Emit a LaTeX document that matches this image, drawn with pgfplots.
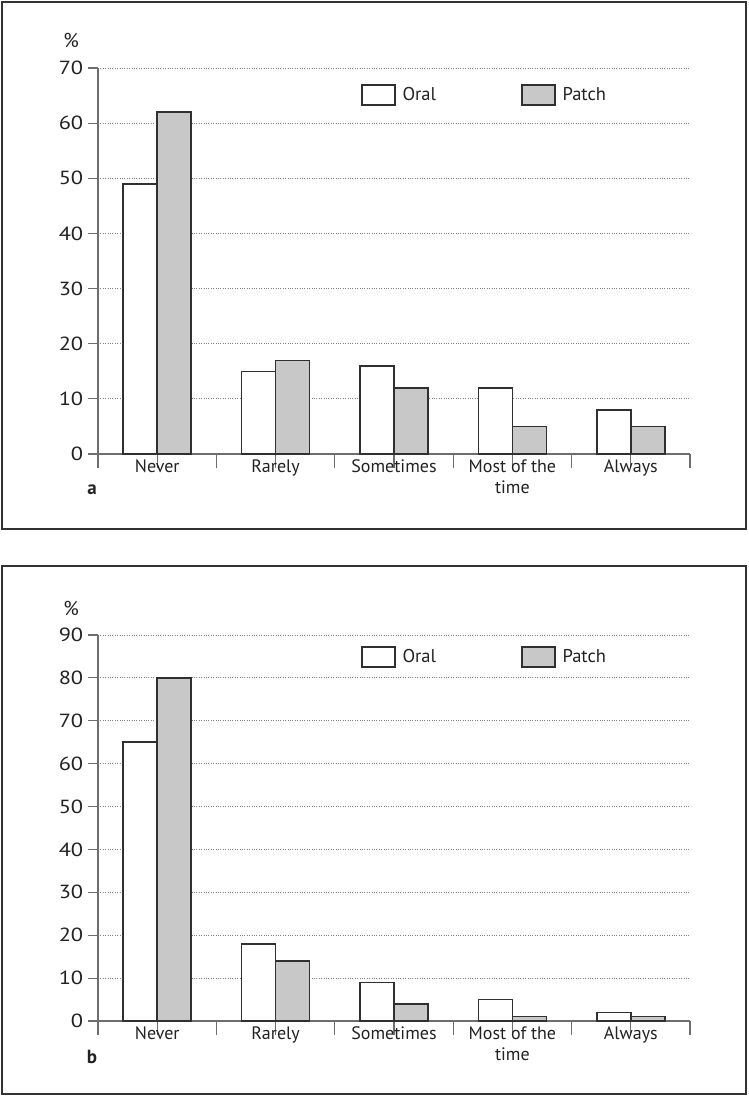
\documentclass[border=0pt]{standalone}
\usepackage{fontspec}
\setmainfont{PT Sans}
\newfontfamily\numfont[FakeStretch=1.18]{PT Sans}
\usepackage{pgfplots}
\pgfplotsset{compat=1.18}
\definecolor{barline}{HTML}{303030}
\definecolor{patchfill}{HTML}{C8C8C8}
\definecolor{axisgray}{HTML}{6E6E6E}
\definecolor{framegray}{HTML}{333333}
\definecolor{txt}{HTML}{222222}

\pgfplotsset{
  panel/.style={
    scale only axis, width=592pt, height=386pt,
    xmin=0, xmax=5, ymin=0, clip=false,
    axis x line=bottom, axis y line=left,
    axis line style={-, draw=axisgray, line width=1.2pt},
    tick align=outside,
    tick style={draw=axisgray, line width=1.2pt},
    /pgf/number format/assume math mode=true,
    xtick={0,...,5}, xticklabels={},
    xtick style={/pgfplots/major tick length=14pt},
    ytick style={/pgfplots/major tick length=10pt},
    extra x ticks={0.5,1.5,2.5,3.5,4.5},
    extra x tick labels={Never,Rarely,Sometimes,{Most of the\\time},Always},
    extra x tick style={/pgfplots/major tick length=0pt, xmajorgrids=false},
    xticklabel style={align=center, text=txt, font=\fontsize{18}{21}\selectfont, yshift=-2pt},
    yticklabel style={text=txt, font=\numfont\fontsize{19}{21}\selectfont, xshift=-7pt},
    ymajorgrids, grid style={dotted, draw=gray, line width=0.9pt},
    ybar=0pt, bar width=34pt,
    legend style={draw=none, fill=none, legend columns=2, anchor=west,
      font=\fontsize{18.5}{21}\selectfont, text=txt, inner xsep=0pt,
      /tikz/every odd column/.append style={column sep=5pt},
      /tikz/every even column/.append style={column sep=83pt}},
    legend image code/.code={\draw[#1] (0pt,-10pt) rectangle (33pt,10pt);},
  },
  oral/.style={draw=barline, line width=1.5pt, fill=white},
  patch/.style={draw=barline, line width=1.5pt, fill=patchfill},
}

\begin{document}
\begin{tikzpicture}[x=1pt,y=1pt]
\path (0,0) rectangle (749,1098);
\draw[framegray, line width=2pt] (2,1096) rectangle (746,569);
\draw[framegray, line width=2pt] (2,532) rectangle (746,4);

% panel a
\begin{axis}[panel, at={(98pt,644pt)}, anchor=south west,
  ymax=70, ytick={0,10,...,70},
  legend style={at={(0.444,0.93)}}]
\addplot[oral] coordinates {(0.5,49) (1.5,15) (2.5,16) (3.5,12) (4.5,8)};
\addlegendentry{Oral}
\addplot[patch] coordinates {(0.5,62) (1.5,17) (2.5,12) (3.5,5) (4.5,5)};
\addlegendentry{Patch}
\end{axis}
\node[text=txt, font=\fontsize{20}{22}\selectfont] at (71,1057) {\%};
\node[text=txt, font=\fontsize{19}{20}\selectfont\bfseries] at (92,608) {a};

% panel b
\begin{axis}[panel, at={(98pt,77pt)}, anchor=south west,
  ymax=90, ytick={0,10,...,90},
  legend style={at={(0.444,0.943)}}]
\addplot[oral] coordinates {(0.5,65) (1.5,18) (2.5,9) (3.5,5) (4.5,2)};
\addlegendentry{Oral}
\addplot[patch] coordinates {(0.5,80) (1.5,14) (2.5,4) (3.5,1) (4.5,1)};
\addlegendentry{Patch}
\end{axis}
\node[text=txt, font=\fontsize{20}{22}\selectfont] at (71,490) {\%};
\node[text=txt, font=\fontsize{19}{20}\selectfont\bfseries] at (92,41) {b};
\end{tikzpicture}
\end{document}
